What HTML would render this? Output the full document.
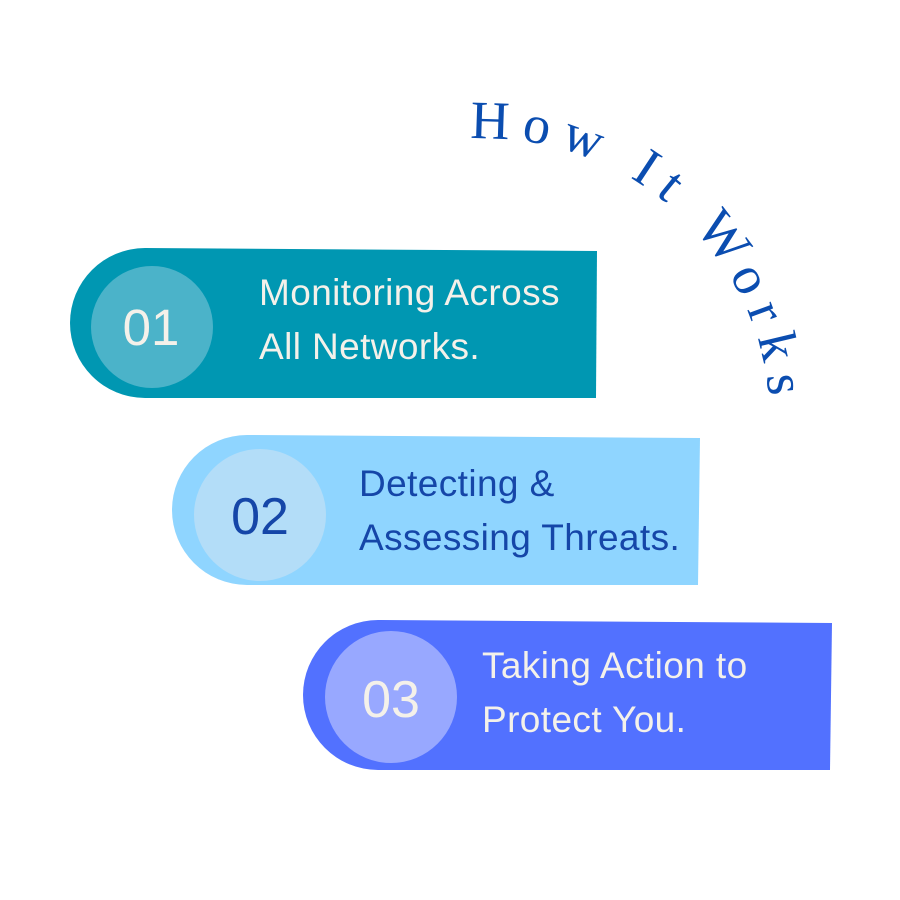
<!DOCTYPE html>
<html><head><meta charset="utf-8"><style>
html,body{margin:0;padding:0;background:#fff;width:900px;height:900px;overflow:hidden}
</style></head><body>
<svg width="900" height="900" viewBox="0 0 900 900" xmlns="http://www.w3.org/2000/svg">
<defs><path id="arc" d="M 470 139 A 284 284 0 0 1 770 430"/></defs>
<text font-family="Liberation Serif, serif" font-size="54" fill="#0b4db0" letter-spacing="12"><textPath href="#arc">How It Works</textPath></text>

<path d="M145 248 L597 251 L596 398 L145 398 A75 75 0 0 1 145 248 Z" fill="#0097b2"/>
<circle cx="152" cy="327" r="61" fill="#4bb3c9"/>
<text x="151" y="345" text-anchor="middle" font-family="Liberation Sans, sans-serif" font-size="51" fill="#f4f1ea">01</text>
<text font-family="Liberation Sans, sans-serif" font-size="37" letter-spacing="0.4" fill="#f4f1ea"><tspan x="259" y="305">Monitoring Across</tspan><tspan x="259" y="359">All Networks.</tspan></text>

<path d="M247 435 L700 438 L698 585 L247 585 A75 75 0 0 1 247 435 Z" fill="#8fd5ff"/>
<circle cx="260" cy="515" r="66" fill="#b3ddf8"/>
<text x="260" y="534" text-anchor="middle" font-family="Liberation Sans, sans-serif" font-size="52" fill="#1546a8">02</text>
<text font-family="Liberation Sans, sans-serif" font-size="37" letter-spacing="0.4" fill="#1546a8"><tspan x="359" y="496">Detecting &amp;</tspan><tspan x="359" y="550">Assessing Threats.</tspan></text>

<path d="M378 620 L832 623 L830 770 L378 770 A75 75 0 0 1 378 620 Z" fill="#5271ff"/>
<circle cx="391" cy="697" r="66" fill="#98a8ff"/>
<text x="391" y="717" text-anchor="middle" font-family="Liberation Sans, sans-serif" font-size="52" fill="#f4f1ea">03</text>
<text font-family="Liberation Sans, sans-serif" font-size="37" letter-spacing="0.4" fill="#f4f1ea"><tspan x="482" y="678">Taking Action to</tspan><tspan x="482" y="732">Protect You.</tspan></text>
</svg>
</body></html>
